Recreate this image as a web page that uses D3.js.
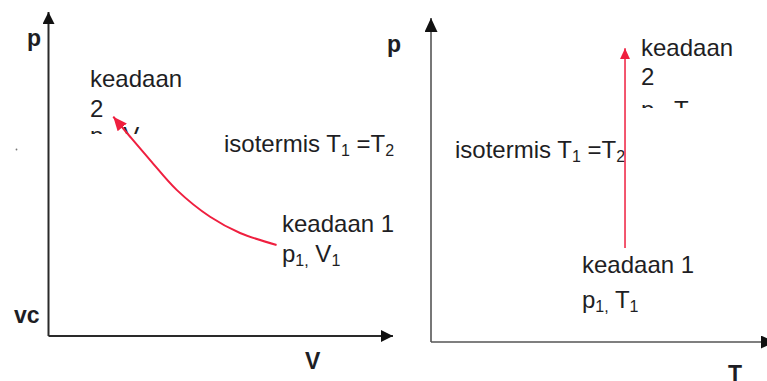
<!DOCTYPE html>
<html>
<head>
<meta charset="utf-8">
<script src="https://cdn.jsdelivr.net/npm/d3@7"></script>
<style>
    body { margin: 0; background: #fff; }
    svg { display: block; }
    text { font-family: "Liberation Sans", Arial, sans-serif; fill: #1e1e24; }
    .axis-label { font-weight: bold; font-size: 23px; }
    .note { font-size: 24px; }
</style>
</head>
<body>
<div id="chart"></div>
<script>
(function () {
    // isothermal process in the p-V plane (V, p in arbitrary units)
    const curveV = [6.62, 5.56, 4.69, 3.72, 2.95, 2.37, 1.88];
    const curveP = [2.81, 3.18, 3.68, 4.51, 5.43, 6.15, 6.77];

    // same process in the p-T plane: T stays constant
    const lineT = [5.64, 5.64];
    const lineP = [2.90, 9.07];

    const leftAxisLabels = { y: 'p', origin: 'vc', x: 'V' };
    const rightAxisLabels = { y: 'p', x: 'T' };

    const width = 767, height = 381;
    const red = '#ef1f3f';

    const svg = d3.select('#chart')
        .append('svg')
        .attr('width', width)
        .attr('height', height);

    const defs = svg.append('defs');

    function addMarker(id, len, wid, color) {
        defs.append('marker')
            .attr('id', id)
            .attr('markerUnits', 'userSpaceOnUse')
            .attr('viewBox', `0 0 ${len} ${wid}`)
            .attr('refX', len)
            .attr('refY', wid / 2)
            .attr('markerWidth', len)
            .attr('markerHeight', wid)
            .attr('orient', 'auto')
            .append('path')
            .attr('d', `M0,0L${len},${wid / 2}L0,${wid}Z`)
            .attr('fill', color);
    }
    addMarker('arrowAxisL', 12, 12, '#111');
    addMarker('arrowAxisR', 14, 13, '#111');
    addMarker('arrowRedL', 14, 12, red);
    addMarker('arrowRedR', 11, 10, red);

    defs.append('clipPath').attr('id', 'clipL')
        .append('rect').attr('x', 0).attr('y', 0).attr('width', 220).attr('height', 134);
    defs.append('clipPath').attr('id', 'clipR')
        .append('rect').attr('x', 600).attr('y', 0).attr('width', 167).attr('height', 108);

    // scales
    const xL = d3.scaleLinear().domain([0, 10]).range([48.5, 393]);
    const yL = d3.scaleLinear().domain([0, 10]).range([336, 12]);
    const xR = d3.scaleLinear().domain([0, 10]).range([431, 775]);
    const yR = d3.scaleLinear().domain([0, 10]).range([342, 18]);

    // axes: bare domain lines with arrowheads
    function drawAxes(x, y, color, stroke, marker) {
        svg.append('line')
            .attr('x1', x(0)).attr('y1', y(0))
            .attr('x2', x(0)).attr('y2', y(10))
            .attr('stroke', color).attr('stroke-width', stroke)
            .attr('marker-end', `url(#${marker})`);
        svg.append('line')
            .attr('x1', x(0)).attr('y1', y(0))
            .attr('x2', x(10)).attr('y2', y(0))
            .attr('stroke', color).attr('stroke-width', stroke)
            .attr('marker-end', `url(#${marker})`);
    }
    drawAxes(xL, yL, '#2a2a2a', 2, 'arrowAxisL');
    drawAxes(xR, yR, '#555', 1.6, 'arrowAxisR');

    // axis labels
    svg.append('text').attr('class', 'axis-label').attr('x', 27).attr('y', 46).text(leftAxisLabels.y);
    svg.append('text').attr('class', 'axis-label').attr('x', 14).attr('y', 323).text(leftAxisLabels.origin);
    svg.append('text').attr('class', 'axis-label').attr('x', 305).attr('y', 369).text(leftAxisLabels.x);
    svg.append('text').attr('class', 'axis-label').attr('x', 387).attr('y', 52).text(rightAxisLabels.y);
    svg.append('text').attr('class', 'axis-label').attr('x', 728).attr('y', 382).text(rightAxisLabels.x);

    // stray dot
    svg.append('circle').attr('cx', 16.5).attr('cy', 149.5).attr('r', 0.9).attr('fill', '#777');

    // text helper with subscripts: parts = [[text, isSub], ...]
    function note(x, y, parts, clip) {
        const t = svg.append('text').attr('class', 'note').attr('x', x).attr('y', y);
        if (clip) t.attr('clip-path', `url(#${clip})`);
        let sub = false;
        parts.forEach(([s, isSub]) => {
            const span = t.append('tspan').text(s);
            if (isSub !== sub) {
                span.attr('dy', isSub ? 4 : -4);
                sub = isSub;
            }
            if (isSub) span.attr('font-size', 16);
        });
        return t;
    }

    // left panel notes
    note(90, 87, [['keadaan', false]]);
    note(90, 117, [['2', false]]);
    note(90, 144, [['p', false], ['2,', true], [' V', false], ['2', true]], 'clipL');
    note(224, 152, [['isotermis T', false], ['1', true], [' =T', false], ['2', true]]);
    note(282, 232, [['keadaan 1', false]]);
    note(282, 262, [['p', false], ['1,', true], [' V', false], ['1', true]]);

    // right panel notes
    note(641, 56, [['keadaan', false]]);
    note(641, 85, [['2', false]]);
    note(641, 118, [['p', false], ['2,', true], [' T', false], ['2', true]], 'clipR');
    note(455, 158, [['isotermis T', false], ['1', true], [' =T', false], ['2', true]]);
    note(582, 273, [['keadaan 1', false]]);
    note(582, 308, [['p', false], ['1,', true], [' T', false], ['1', true]]);

    // isothermal curve, state 1 -> state 2
    const curveData = curveV.map((v, i) => ({ v: v, p: curveP[i] }));
    const curveLine = d3.line()
        .x(d => xL(d.v))
        .y(d => yL(d.p))
        .curve(d3.curveCatmullRom);
    svg.append('path')
        .datum(curveData)
        .attr('d', curveLine)
        .attr('fill', 'none')
        .attr('stroke', red)
        .attr('stroke-width', 2)
        .attr('marker-end', 'url(#arrowRedL)');

    // vertical process line in p-T plane
    const lineData = lineT.map((t, i) => ({ t: t, p: lineP[i] }));
    svg.append('path')
        .datum(lineData)
        .attr('d', d3.line().x(d => xR(d.t)).y(d => yR(d.p)))
        .attr('fill', 'none')
        .attr('stroke', red)
        .attr('stroke-width', 1.5)
        .attr('marker-end', 'url(#arrowRedR)');
})();
</script>
</body>
</html>
